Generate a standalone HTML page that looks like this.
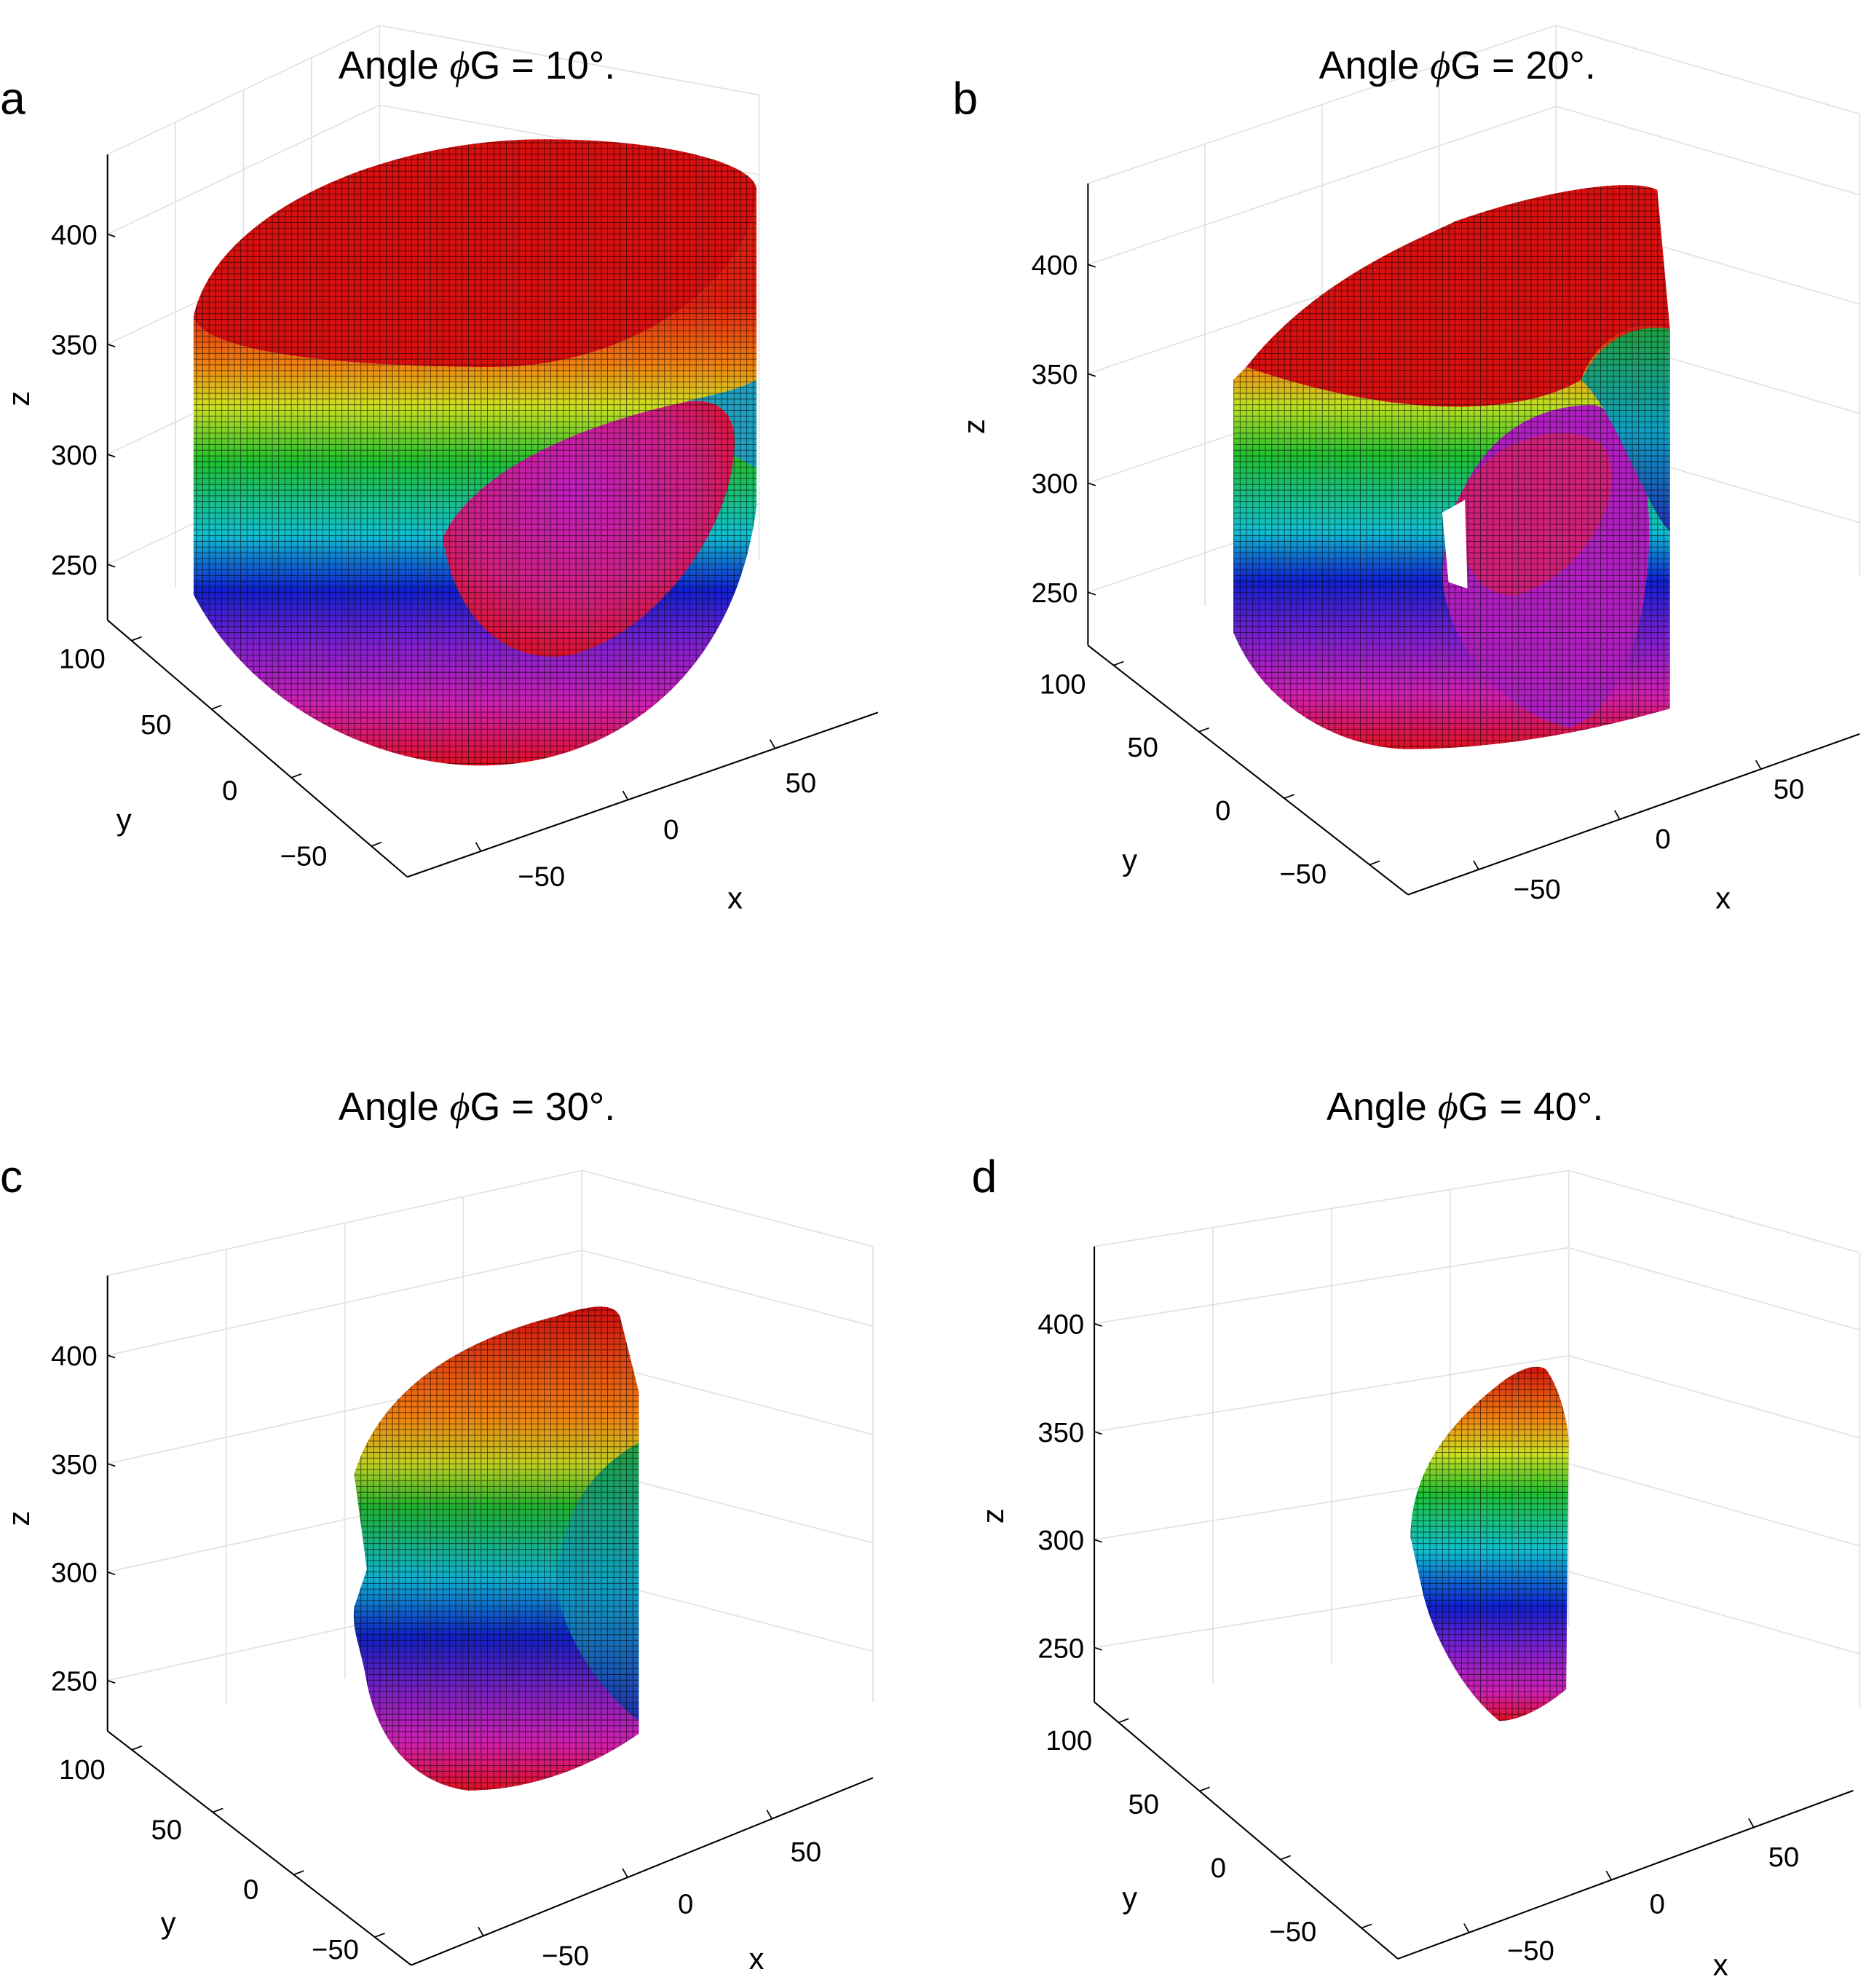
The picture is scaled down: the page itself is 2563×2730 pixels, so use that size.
<!DOCTYPE html>
<html><head><meta charset="utf-8"><style>
html,body{margin:0;padding:0;background:#fff;}
svg{display:block;font-family:"Liberation Sans",sans-serif;}
</style></head><body>
<svg id="fig" width="2563" height="2730" viewBox="0 0 1475 1571" xmlns="http://www.w3.org/2000/svg">
<defs>
<pattern id="vox" width="5" height="4.5" patternUnits="userSpaceOnUse">
<path d="M0 0H5M0 0V4.5" stroke="#000" stroke-width="1.1" opacity="0.6" fill="none"/>
</pattern>
<linearGradient id="ga" gradientUnits="userSpaceOnUse" x1="0" y1="240" x2="0" y2="605">
<stop offset="0" stop-color="#e02010"/><stop offset="0.13" stop-color="#f08010"/><stop offset="0.22" stop-color="#d0e020"/>
<stop offset="0.34" stop-color="#20c030"/><stop offset="0.5" stop-color="#10c0d0"/><stop offset="0.62" stop-color="#1020d0"/>
<stop offset="0.74" stop-color="#8020d0"/><stop offset="0.87" stop-color="#d020b0"/><stop offset="1" stop-color="#e01020"/>
</linearGradient>
<linearGradient id="gb" gradientUnits="userSpaceOnUse" x1="0" y1="260" x2="0" y2="592">
<stop offset="0" stop-color="#e02010"/><stop offset="0.1" stop-color="#f09010"/><stop offset="0.18" stop-color="#c0e020"/>
<stop offset="0.3" stop-color="#20c030"/><stop offset="0.48" stop-color="#10c0d0"/><stop offset="0.6" stop-color="#1020d0"/>
<stop offset="0.74" stop-color="#8020d0"/><stop offset="0.87" stop-color="#d020b0"/><stop offset="1" stop-color="#e01020"/>
</linearGradient>
<linearGradient id="gc" gradientUnits="userSpaceOnUse" x1="0" y1="1035" x2="0" y2="1415">
<stop offset="0" stop-color="#d01010"/><stop offset="0.22" stop-color="#f08010"/><stop offset="0.32" stop-color="#c0d020"/>
<stop offset="0.41" stop-color="#20b030"/><stop offset="0.56" stop-color="#10b0d0"/><stop offset="0.68" stop-color="#1020c0"/>
<stop offset="0.8" stop-color="#8020c0"/><stop offset="0.9" stop-color="#d020b0"/><stop offset="1" stop-color="#e01020"/>
</linearGradient>
<linearGradient id="gd" gradientUnits="userSpaceOnUse" x1="0" y1="1078" x2="0" y2="1360">
<stop offset="0" stop-color="#d01010"/><stop offset="0.15" stop-color="#f08010"/><stop offset="0.25" stop-color="#d0e020"/>
<stop offset="0.36" stop-color="#20c030"/><stop offset="0.52" stop-color="#10c0d0"/><stop offset="0.68" stop-color="#1020d0"/>
<stop offset="0.8" stop-color="#8020d0"/><stop offset="0.92" stop-color="#d020b0"/><stop offset="1" stop-color="#e01020"/>
</linearGradient>
<radialGradient id="gcut" cx="0.45" cy="0.35" r="0.7">
<stop offset="0" stop-color="#c020c0"/><stop offset="0.6" stop-color="#d02080"/><stop offset="1" stop-color="#e01020"/>
</radialGradient>
<linearGradient id="ginner" x1="0" y1="0" x2="0" y2="1">
<stop offset="0" stop-color="#20a040"/><stop offset="0.5" stop-color="#10a0c0"/><stop offset="1" stop-color="#2030b0"/>
</linearGradient>
</defs>
<g id="grids" stroke="#e2e2e2" stroke-width="1" fill="none"></g>
<g id="shapes">
<g>
<path d="M153,250 C160,280 280,290 390,290 C500,290 598,220 598,150 L598,400 C580,540 480,605 380,605 C300,605 200,560 153,470 Z" fill="url(#ga)"/>
<path d="M350,425 C370,380 440,340 540,318 C570,312 585,330 580,360 C575,420 520,500 450,518 C400,525 360,490 350,425 Z" fill="url(#gcut)"/>
<path d="M540,318 C570,312 585,330 580,360 L598,370 L598,300 C580,310 560,312 540,318 Z" fill="#20a0c0"/>
<path d="M153,250 C160,280 280,290 390,290 C500,290 598,220 598,150 L598,400 C580,540 480,605 380,605 C300,605 200,560 153,470 Z" fill="url(#vox)"/>
<path d="M153,250 C170,170 300,110 430,110 C530,110 598,130 598,150 C598,220 500,290 390,290 C280,290 160,280 153,250 Z" fill="#d81010"/>
<path d="M153,250 C170,170 300,110 430,110 C530,110 598,130 598,150 C598,220 500,290 390,290 C280,290 160,280 153,250 Z" fill="url(#vox)"/>
</g>
<g>
<path d="M975,300 L975,500 C1000,560 1060,590 1110,592 C1180,592 1250,580 1320,560 L1320,260 C1290,250 1260,270 1250,300 C1200,330 1100,330 985,290 Z" fill="url(#gb)"/>
<path d="M1140,450 C1150,360 1200,320 1260,320 C1300,330 1310,400 1300,470 C1290,540 1260,570 1240,575 C1180,560 1140,500 1140,450 Z" fill="#b020c0"/>
<path d="M1150,400 C1170,350 1230,330 1265,350 C1290,380 1260,450 1200,470 C1170,475 1150,440 1150,400 Z" fill="#d0207a"/>
<path d="M1250,300 C1265,270 1290,255 1320,260 L1320,420 C1300,400 1280,330 1250,300 Z" fill="url(#ginner)"/>
<path d="M975,300 L975,500 C1000,560 1060,590 1110,592 C1180,592 1250,580 1320,560 L1320,260 C1290,250 1260,270 1250,300 C1200,330 1100,330 985,290 Z" fill="url(#vox)"/>
<path d="M1140,405 L1158,395 L1160,465 L1145,460 Z" fill="#fff"/>
<path d="M985,290 C1040,220 1120,190 1150,175 C1220,150 1290,140 1310,150 L1320,260 C1290,250 1260,270 1250,300 C1200,330 1100,330 985,290 Z" fill="#d81010"/>
<path d="M985,290 C1040,220 1120,190 1150,175 C1220,150 1290,140 1310,150 L1320,260 C1290,250 1260,270 1250,300 C1200,330 1100,330 985,290 Z" fill="url(#vox)"/>
</g>
<g>
<path d="M280,1165 C300,1100 360,1060 440,1040 C470,1030 485,1030 490,1040 L505,1100 L505,1370 C470,1395 420,1415 370,1415 C330,1410 300,1380 290,1330 C285,1300 278,1290 280,1270 L290,1240 L280,1165 Z" fill="url(#gc)"/>
<path d="M440,1250 C445,1190 470,1160 505,1140 L505,1360 C480,1340 445,1300 440,1250 Z" fill="url(#ginner)"/>
<path d="M280,1165 C300,1100 360,1060 440,1040 C470,1030 485,1030 490,1040 L505,1100 L505,1370 C470,1395 420,1415 370,1415 C330,1410 300,1380 290,1330 C285,1300 278,1290 280,1270 L290,1240 L280,1165 Z" fill="url(#vox)"/>
</g>
<g>
<path d="M1115,1215 C1115,1160 1150,1120 1190,1090 C1205,1080 1215,1078 1222,1082 C1235,1100 1240,1130 1240,1140 L1238,1335 C1220,1350 1200,1360 1185,1360 C1160,1340 1135,1300 1125,1260 Z" fill="url(#gd)"/>
<path d="M1115,1215 C1115,1160 1150,1120 1190,1090 C1205,1080 1215,1078 1222,1082 C1235,1100 1240,1130 1240,1140 L1238,1335 C1220,1350 1200,1360 1185,1360 C1160,1340 1135,1300 1125,1260 Z" fill="url(#vox)"/>
</g>
</g>
<g id="axes"></g>
</svg>
<script>
const zTicks = [400, 350, 300, 250];
const yTicks = [100, 50, 0, -50];
const xTicks = [-50, 0, 50];
const panelLetters = ['a', 'b', 'c', 'd'];
const panelAngles = [10, 20, 30, 40];

const panels = [
 {zx:85, zTop:122, zBot:490, z400:185, z250:446, yA:[85,490], yB:[322,693], xB:[694,563], y100:[65,520], ym50:[240,676], xm50:[428,692], x50:[633,618], yl:[98,648], xl:[581,710], title:[377,52], let:[0,90], zl:[15,315], grid:[[300,20],[600,75]]},
 {zx:860, zTop:145, zBot:510, z400:209, z250:468, yA:[860,510], yB:[1113,707], xB:[1470,580], y100:[840,540], ym50:[1030,690], xm50:[1215,702], x50:[1414,623], yl:[893,680], xl:[1362,710], title:[1152,52], let:[753,90], zl:[770,337], grid:[[1230,20],[1470,90]]},
 {zx:85, zTop:1008, zBot:1368, z400:1071, z250:1328, yA:[85,1368], yB:[325,1553], xB:[690,1405], y100:[65,1398], ym50:[265,1540], xm50:[447,1545], x50:[637,1463], yl:[133,1520], xl:[598,1548], title:[377,875], let:[0,942], zl:[15,1200], grid:[[460,925],[690,985]]},
 {zx:865, zTop:985, zBot:1345, z400:1046, z250:1302, yA:[865,1345], yB:[1105,1548], xB:[1465,1415], y100:[845,1375], ym50:[1022,1526], xm50:[1210,1541], x50:[1410,1467], yl:[893,1500], xl:[1360,1553], title:[1158,875], let:[768,942], zl:[785,1198], grid:[[1240,925],[1470,990]]}
];
const NS = 'http://www.w3.org/2000/svg';
const axes = document.getElementById('axes');
const grids = document.getElementById('grids');
function mk(tag, attrs, parent){const e=document.createElementNS(NS,tag);for(const k in attrs)e.setAttribute(k,attrs[k]);parent.appendChild(e);return e;}
function txt(x,y,s,size,anchor,parent){const t=mk('text',{x:x,y:y,'font-size':size,'text-anchor':anchor,fill:'#000'},parent);t.textContent=s;return t;}

panels.forEach((p,i)=>{
  const g = mk('g',{},axes);
  
  
  const zScale = v => p.z250 + (v-250)*(p.z400-p.z250)/150;
  const yScale = v => [p.ym50[0] + (v+50)/150*(p.y100[0]-p.ym50[0]), p.ym50[1] + (v+50)/150*(p.y100[1]-p.ym50[1])];
  const xScale = v => [p.xm50[0] + (v+50)/100*(p.x50[0]-p.xm50[0]), p.xm50[1] + (v+50)/100*(p.x50[1]-p.xm50[1])];
  const gx = p.grid[0], gr = p.grid[1];
  [0.25,0.5,0.75].forEach(f=>{
    const xx = p.zx + (gx[0]-p.zx)*f, yy = p.zTop + (gx[1]-p.zTop)*f;
    mk('line',{x1:xx,y1:yy,x2:xx,y2:yy+(p.zBot-p.zTop)},grids);
  });
  mk('line',{x1:p.zx,y1:p.zTop,x2:gx[0],y2:gx[1]},grids);
  mk('line',{x1:gx[0],y1:gx[1],x2:gr[0],y2:gr[1]},grids);
  mk('line',{x1:gx[0],y1:gx[1],x2:gx[0],y2:gx[1]+(p.zBot-p.zTop)},grids);
  mk('line',{x1:gr[0],y1:gr[1],x2:gr[0],y2:gr[1]+(p.zBot-p.zTop)},grids);
  zTicks.forEach(v=>{const yy=zScale(v);
    mk('line',{x1:p.zx,y1:yy,x2:gx[0],y2:yy+(gx[1]-p.zTop)},grids);
    mk('line',{x1:gx[0],y1:yy+(gx[1]-p.zTop),x2:gr[0],y2:yy+(gr[1]-p.zTop)},grids);});
  mk('line',{x1:p.zx,y1:p.zTop,x2:p.zx,y2:p.zBot,stroke:'#000','stroke-width':1.2},g);
  mk('line',{x1:p.yA[0],y1:p.yA[1],x2:p.yB[0],y2:p.yB[1],stroke:'#000','stroke-width':1.2},g);
  mk('line',{x1:p.yB[0],y1:p.yB[1],x2:p.xB[0],y2:p.xB[1],stroke:'#000','stroke-width':1.2},g);
  zTicks.forEach(v=>{const yy=zScale(v);
    mk('line',{x1:p.zx,y1:yy,x2:p.zx+6,y2:yy+2,stroke:'#000'},g);
    const t=txt(p.zx-8,yy+8,String(v),22,'end',g);
    
    });
  yTicks.forEach(v=>{const q=yScale(v);
    const a = p.yA, b=p.yB; const f=(v+50)/150;
    const ax = b[0]+(a[0]-b[0])*(0.12+0.8*f), ay = b[1]+(a[1]-b[1])*(0.12+0.8*f);
    mk('line',{x1:ax,y1:ay,x2:ax+8,y2:ay-3,stroke:'#000'},g);
    const t=txt(q[0],q[1]+8,v<0?'\u2212'+Math.abs(v):String(v),22,'middle',g);
    
    });
  xTicks.forEach(v=>{const q=xScale(v);
    const a=p.yB,b=p.xB; const f=(v+75)/160;
    const ax=a[0]+(b[0]-a[0])*f, ay=a[1]+(b[1]-a[1])*f;
    mk('line',{x1:ax,y1:ay,x2:ax-4,y2:ay-7,stroke:'#000'},g);
    const t=txt(q[0],q[1]+8,v<0?'\u2212'+Math.abs(v):String(v),22,'middle',g);
    
    });
  const zl=txt(p.zl[0],p.zl[1]+8,'z',24,'middle',g);
  zl.setAttribute('transform','rotate(-90 '+p.zl[0]+' '+p.zl[1]+')');
  
  
  const yl=txt(p.yl[0],p.yl[1]+8,'y',24,'middle',g);
  
  
  const xl=txt(p.xl[0],p.xl[1]+8,'x',24,'middle',g);
  
  
  const tt=mk('text',{x:p.title[0],y:p.title[1]+10,'font-size':31,'text-anchor':'middle'},g);
  tt.innerHTML='Angle <tspan font-style="italic" font-family="Liberation Serif">\u03D5</tspan>G = '+panelAngles[i]+'\u00B0.';
  
  
  const lt=txt(p.let[0],p.let[1],panelLetters[i],36,'start',g);
  
  
});
</script>
</body></html>
